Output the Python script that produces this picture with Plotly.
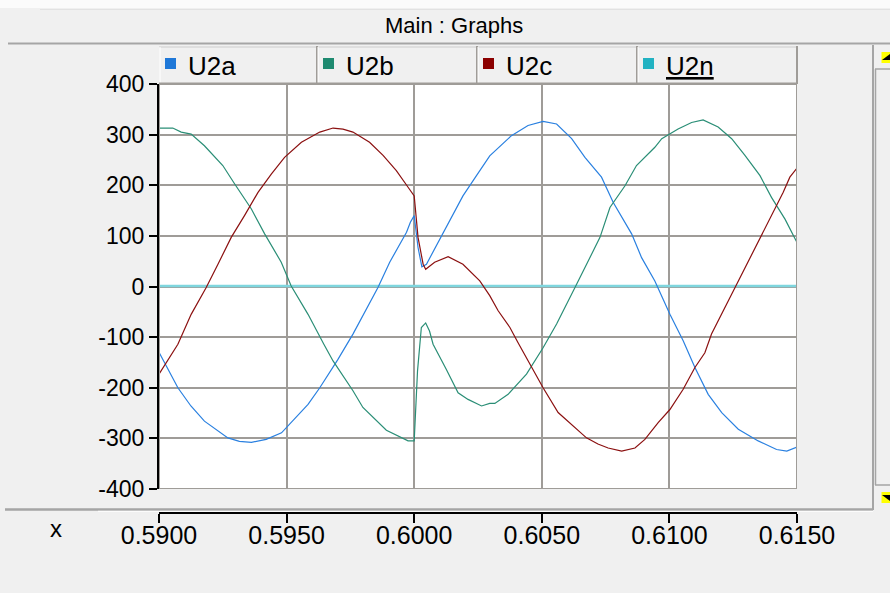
import plotly.graph_objects as go

# ---------------- data ----------------
t_a = [0.5900, 0.59074, 0.59125, 0.59178, 0.5927, 0.59315, 0.59362, 0.5942, 0.5948, 0.59584,
       0.5963, 0.5970, 0.5976, 0.5981, 0.59858, 0.59904, 0.5997, 0.59985, 0.6000, 0.60015,
       0.6003, 0.60048, 0.6008, 0.60126, 0.60191, 0.60244, 0.60296, 0.60381, 0.60446, 0.60505,
       0.60558, 0.60617, 0.60669, 0.60734, 0.6078, 0.60852, 0.60891, 0.60943, 0.61002, 0.61054,
       0.611, 0.61152, 0.61205, 0.6127, 0.61348, 0.6142, 0.6146, 0.6150]
u2a = [-130, -200, -236, -266, -299, -306, -308, -302, -289, -233,
       -200, -145, -94, -47, -2, 48, 107, 127, 140, 77,
       39, 44, 74, 117, 179, 219, 258, 298, 318, 326,
       321, 292, 255, 216, 166, 104, 57, 11, -55, -107,
       -160, -213, -249, -282, -305, -322, -325, -317]

t_b = [0.5900, 0.59054, 0.59087, 0.59126, 0.59178, 0.5925, 0.59296, 0.59362, 0.59414, 0.59479,
       0.59518, 0.59584, 0.59646, 0.59682, 0.5976, 0.59799, 0.59891, 0.59976, 0.6000, 0.60013,
       0.60028, 0.60045, 0.6006, 0.60074, 0.60126, 0.60172, 0.60211, 0.60264, 0.60296, 0.60316,
       0.60368, 0.6044, 0.60505, 0.60558, 0.6063, 0.60669, 0.60728, 0.60767, 0.60826, 0.60871,
       0.60943, 0.6097, 0.61034, 0.61087, 0.61132, 0.61191, 0.61244, 0.61296, 0.61355, 0.614,
       0.61453, 0.6150]
u2b = [313, 313, 305, 301, 278, 239, 203, 153, 104, 48,
       1, -55, -114, -147, -206, -239, -284, -305, -305, -167,
       -81, -72, -88, -114, -164, -210, -223, -236, -231, -231,
       -213, -173, -121, -74, -2, 38, 97, 156, 199, 239,
       275, 292, 311, 324, 329, 315, 292, 259, 219, 176,
       133, 87]

t_c = [0.5900, 0.59074, 0.59126, 0.59185, 0.59231, 0.59283, 0.59335, 0.59388, 0.5944, 0.59492,
       0.59558, 0.5963, 0.59682, 0.59721, 0.5976, 0.59825, 0.59878, 0.5993, 0.59976, 0.6000,
       0.60015, 0.60035, 0.60045, 0.6008, 0.60133, 0.60191, 0.60257, 0.60296, 0.60329, 0.60375,
       0.60407, 0.60453, 0.60505, 0.60564, 0.60617, 0.60675, 0.6072, 0.6076, 0.60813, 0.60865,
       0.60904, 0.60956, 0.61002, 0.61054, 0.611, 0.61139, 0.61165, 0.61217, 0.61257, 0.61296,
       0.61348, 0.614, 0.61446, 0.61472, 0.6150]
u2c = [-173, -114, -55, -2, 44, 97, 140, 186, 222, 255,
       285, 305, 313, 311, 305, 285, 259, 229, 196, 179,
       97, 44, 34, 48, 59, 44, 11, -18, -48, -81,
       -111, -154, -200, -249, -272, -299, -311, -319, -325, -319,
       -302, -269, -243, -203, -160, -131, -94, -42, -1, 38,
       90, 143, 186, 216, 234]

t_n = [0.5900, 0.6150]
u2n = [1, 1]

series_names = ["U2a", "U2b", "U2c", "U2n"]
series_colors = ["#1f78d8", "#1e8a70", "#8b0000", "#22b2c2"]
line_colors = ["#2a80e0", "#2a8e76", "#8b1010", "#7fd6de"]

x_ticks = [0.5900, 0.5950, 0.6000, 0.6050, 0.6100, 0.6150]
y_ticks = [-400, -300, -200, -100, 0, 100, 200, 300, 400]
y_tick_labels = ["-400", "-300", "-200", "-100", "0", "100", "200", "300", "400"]

# ---------------- layout helpers ----------------
W, H = 890, 593
ML, MR, MT, MB = 159, 93, 84, 80
PW, PH = W - ML - MR, H - MT - MB
FONT = "Liberation Sans, Arial, Helvetica, sans-serif"


def fx(px):
    return (px - ML) / PW


def fy(py):
    return (H - MB - py) / PH


fig = go.Figure()
xs = [t_n, t_a, t_b, t_c]
ys = [u2n, u2a, u2b, u2c]
order = [3, 0, 1, 2]
for i, (tx, vy) in zip(order, zip(xs, ys)):
    fig.add_trace(go.Scatter(
        x=tx, y=vy, mode="lines", name=series_names[i],
        line=dict(color=line_colors[i], width=2.6 if i == 3 else 1.2),
        showlegend=False, hoverinfo="skip"))

GRID = "#9f9c98"
shapes = []
annotations = []

# top white strip and title panel
shapes.append(dict(type="rect", xref="paper", yref="paper", x0=fx(0), x1=fx(W), y0=fy(8), y1=fy(0),
                   fillcolor="#fbfbfb", line=dict(width=0), layer="below"))
shapes.append(dict(type="line", xref="paper", yref="paper", x0=fx(40), x1=fx(W), y0=fy(9.5), y1=fy(9.5),
                   line=dict(color="#e2e2e2", width=1)))
shapes.append(dict(type="line", xref="paper", yref="paper", x0=fx(8), x1=fx(W), y0=fy(43.5), y1=fy(43.5),
                   line=dict(color="#a5a5a5", width=2)))
annotations.append(dict(text="Main : Graphs", xref="paper", yref="paper", x=fx(454), y=fy(26),
                        xanchor="center", yanchor="middle", showarrow=False,
                        font=dict(family=FONT, size=22, color="#000")))

# legend cells
cell_edges = [159, 317, 477, 637, 797]
shapes.append(dict(type="line", xref="paper", yref="paper", x0=fx(159), x1=fx(797), y0=fy(47), y1=fy(47),
                   line=dict(color="#d8d8d8", width=1.5)))
for k in range(4):
    x0 = cell_edges[k]
    x1 = cell_edges[k + 1]
    shapes.append(dict(type="line", xref="paper", yref="paper", x0=fx(x0 + 1), x1=fx(x0 + 1), y0=fy(83), y1=fy(47),
                       line=dict(color="#ffffff", width=1)))
    shapes.append(dict(type="line", xref="paper", yref="paper", x0=fx(x1), x1=fx(x1), y0=fy(84), y1=fy(46),
                       line=dict(color=GRID, width=2)))
    shapes.append(dict(type="rect", xref="paper", yref="paper", x0=fx(x0 + 6), x1=fx(x0 + 17),
                       y0=fy(69), y1=fy(58), fillcolor=series_colors[k], line=dict(width=0)))
    label = series_names[k] if k < 3 else "<u>" + series_names[k] + "</u>"
    annotations.append(dict(text=label, xref="paper", yref="paper", x=fx(x0 + 27), y=fy(66),
                            xanchor="left", yanchor="middle", showarrow=False,
                            font=dict(family=FONT, size=26, color="#000")))
shapes.append(dict(type="line", xref="paper", yref="paper", x0=fx(159), x1=fx(797), y0=fy(83.5), y1=fy(83.5),
                   line=dict(color=GRID, width=2)))

# plot border (right / top / bottom)
shapes.append(dict(type="rect", xref="x", yref="y", x0=x_ticks[0], x1=x_ticks[-1], y0=y_ticks[0], y1=y_ticks[-1],
                   line=dict(color=GRID, width=2), layer="above"))

# separator above the x axis
shapes.append(dict(type="line", xref="paper", yref="paper", x0=fx(5), x1=fx(873), y0=fy(509.5), y1=fy(509.5),
                   line=dict(color="#a5a5a5", width=2.5)))
shapes.append(dict(type="line", xref="paper", yref="paper", x0=fx(98), x1=fx(873), y0=fy(511.3), y1=fy(511.3),
                   line=dict(color="#ffffff", width=1)))

# right scroll bar
shapes.append(dict(type="line", xref="paper", yref="paper", x0=fx(873), x1=fx(873), y0=fy(510), y1=fy(45),
                   line=dict(color="#a5a5a5", width=2)))
shapes.append(dict(type="line", xref="paper", yref="paper", x0=fx(875.5), x1=fx(875.5), y0=fy(485), y1=fy(69),
                   line=dict(color="#a5a5a5", width=1.5)))
for yy in (69, 485):
    shapes.append(dict(type="line", xref="paper", yref="paper", x0=fx(875), x1=fx(W), y0=fy(yy), y1=fy(yy),
                       line=dict(color="#a5a5a5", width=1.5)))
for (ya, yb, up) in ((52, 63, True), (492, 503, False)):
    shapes.append(dict(type="rect", xref="paper", yref="paper", x0=fx(881.5), x1=fx(W), y0=fy(yb), y1=fy(ya),
                       fillcolor="#ffff00", line=dict(width=0)))
    if up:
        path = "M %f,%f L %f,%f L %f,%f Z" % (fx(882), fy(60), fx(890), fy(60), fx(890), fy(54))
    else:
        path = "M %f,%f L %f,%f L %f,%f Z" % (fx(882), fy(495), fx(890), fy(495), fx(890), fy(501))
    shapes.append(dict(type="path", xref="paper", yref="paper", path=path, fillcolor="#000", line=dict(width=0)))

# x label
annotations.append(dict(text="x", xref="paper", yref="paper", x=fx(56), y=fy(528),
                        xanchor="center", yanchor="middle", showarrow=False,
                        font=dict(family=FONT, size=24, color="#000")))

fig.update_layout(
    width=W, height=H,
    margin=dict(l=ML, r=MR, t=MT, b=MB, pad=0),
    paper_bgcolor="#f0f0f0", plot_bgcolor="#ffffff",
    shapes=shapes, annotations=annotations,
    showlegend=False,
    xaxis=dict(range=[x_ticks[0], x_ticks[-1]], tickvals=x_ticks, tickformat=".4f",
               showgrid=True, gridcolor=GRID, gridwidth=2, zeroline=False,
               showline=True, linecolor="#000", linewidth=2,
               ticks="outside", ticklen=9, tickwidth=2, tickcolor="#000",
               ticklabelstandoff=-9,
               anchor="free", position=0,
               tickfont=dict(family=FONT, size=25, color="#000")),
    yaxis=dict(range=[y_ticks[0], y_ticks[-1]], tickvals=y_ticks, ticktext=y_tick_labels,
               domain=[fy(489), 1],
               showgrid=True, gridcolor=GRID, gridwidth=2, zeroline=False,
               showline=True, linecolor="#000", linewidth=2,
               ticks="outside", ticklen=8, tickwidth=2, tickcolor="#000",
               tickfont=dict(family=FONT, size=23, color="#000")),
)

fig.write_html("out.html")
